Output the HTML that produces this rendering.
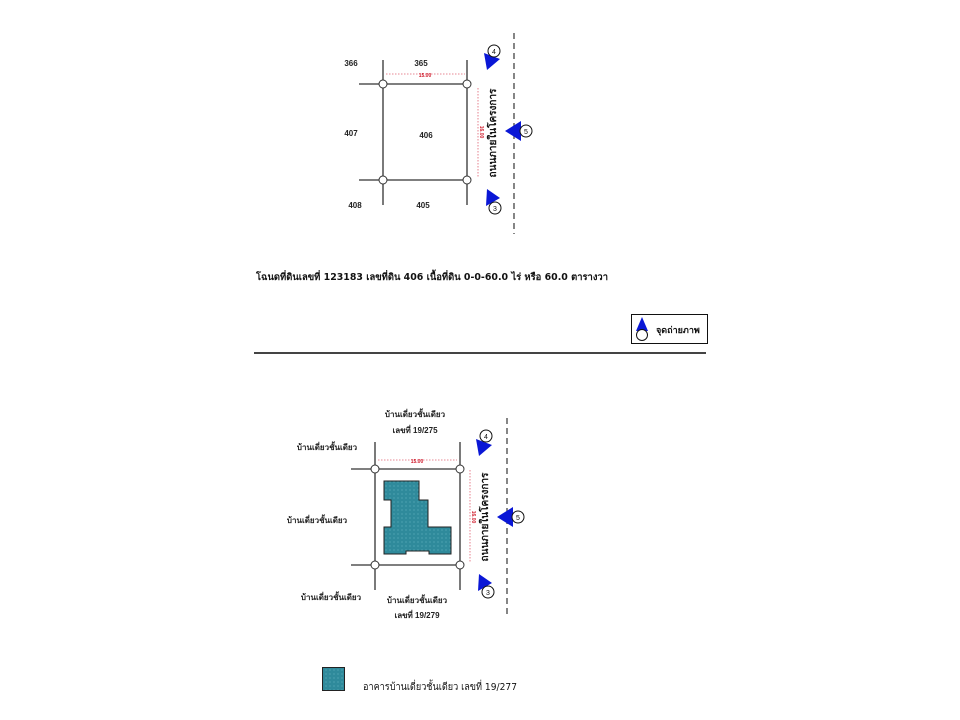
<!DOCTYPE html>
<html><head><meta charset="utf-8"><style>
html,body{margin:0;padding:0;background:#fff;}
svg{display:block;}
text{font-family:"Liberation Sans","Noto Sans CJK SC",sans-serif;}
.th{font-family:"DejaVu Sans","Liberation Sans",sans-serif;}
</style></head><body>
<svg width="960" height="720" viewBox="0 0 960 720" xmlns="http://www.w3.org/2000/svg">
<defs>
<pattern id="dots" width="4" height="4" patternUnits="userSpaceOnUse">
<rect width="4" height="4" fill="#2f8a9b"/><circle cx="2" cy="2" r="0.6" fill="#5fb0bd"/>
</pattern>
</defs>
<!-- TOP -->
<g stroke="#333" stroke-width="1.3" fill="none">
<line x1="383" y1="60" x2="383" y2="205"/>
<line x1="467" y1="60" x2="467" y2="205"/>
<line x1="359" y1="84" x2="467" y2="84"/>
<line x1="359" y1="180" x2="467" y2="180"/>
</g>
<line x1="514" y1="33" x2="514" y2="234" stroke="#444" stroke-width="1.3" stroke-dasharray="6,4"/>
<g stroke="#e06070" stroke-width="0.8" stroke-dasharray="1.5,1.5" fill="none">
<line x1="386" y1="74" x2="465" y2="74"/><line x1="478" y1="88" x2="478" y2="177"/>
</g>
<text x="425" y="77" font-size="5" fill="#d02030" text-anchor="middle" font-weight="bold">15.00</text>
<text transform="translate(480,132) rotate(90)" font-size="5" fill="#d02030" text-anchor="middle" font-weight="bold">16.00</text>
<text class="th" transform="translate(496,133) rotate(-90)" font-size="10" fill="#111" text-anchor="middle" font-weight="bold">ถนนภายในโครงการ</text>
<g fill="#fff" stroke="#333" stroke-width="1">
<circle cx="383" cy="84" r="4"/><circle cx="467" cy="84" r="4"/>
<circle cx="383" cy="180" r="4"/><circle cx="467" cy="180" r="4"/>
</g>
<g font-size="8" font-weight="bold" fill="#222" text-anchor="middle">
<text x="351" y="66">366</text><text x="421" y="66">365</text>
<text x="351" y="136">407</text><text x="426" y="138">406</text>
<text x="355" y="208">408</text><text x="423" y="208">405</text>
</g>
<g fill="#0a17d6">
<polygon points="487,70 484,53 500,59"/>
<polygon points="505,131 521,121 521,141"/>
<polygon points="487,189 500,198 486,206"/>
</g>
<g fill="#fff" stroke="#111" stroke-width="1">
<circle cx="494" cy="51" r="6"/><circle cx="526" cy="131" r="6"/><circle cx="495" cy="208" r="6"/>
</g>
<g font-size="7" fill="#111" text-anchor="middle">
<text x="494" y="54">4</text><text x="526" y="134">5</text><text x="495" y="211">3</text>
</g>
<text class="th" x="256" y="280" font-size="9.6" font-weight="bold" fill="#111" textLength="352" lengthAdjust="spacingAndGlyphs">โฉนดที่ดินเลขที่ 123183 เลขที่ดิน 406 เนื้อที่ดิน 0-0-60.0 ไร่ หรือ 60.0 ตารางวา</text>
<!-- legend -->
<rect x="631.5" y="314.5" width="76" height="29" fill="#fff" stroke="#111" stroke-width="1"/>
<polygon points="642,317 636,331 648,331" fill="#0a17d6"/>
<circle cx="642" cy="335" r="5.5" fill="#fff" stroke="#111"/>
<text class="th" x="656" y="333" font-size="9" font-weight="bold" fill="#111">จุดถ่ายภาพ</text>
<line x1="254" y1="353" x2="706" y2="353" stroke="#444" stroke-width="2"/>
<!-- BOTTOM -->
<g stroke="#333" stroke-width="1.3" fill="none">
<line x1="375" y1="442" x2="375" y2="590"/>
<line x1="460" y1="442" x2="460" y2="590"/>
<line x1="351" y1="469" x2="460" y2="469"/>
<line x1="351" y1="565" x2="460" y2="565"/>
</g>
<line x1="507" y1="418" x2="507" y2="618" stroke="#444" stroke-width="1.3" stroke-dasharray="6,4"/>
<polygon points="384,481 419,481 419,500 428,500 428,527 451,527 451,554 429,554 429,551 406,551 406,554 384,554 384,527 391,527 391,500 384,500" fill="url(#dots)" stroke="#222" stroke-width="1"/>
<g stroke="#e06070" stroke-width="0.8" stroke-dasharray="1.5,1.5" fill="none">
<line x1="378" y1="460" x2="457" y2="460"/><line x1="470" y1="470" x2="470" y2="562"/>
</g>
<text x="417" y="463" font-size="5" fill="#d02030" text-anchor="middle" font-weight="bold">15.00</text>
<text transform="translate(472,517) rotate(90)" font-size="5" fill="#d02030" text-anchor="middle" font-weight="bold">16.00</text>
<text class="th" transform="translate(488,517) rotate(-90)" font-size="10" fill="#111" text-anchor="middle" font-weight="bold">ถนนภายในโครงการ</text>
<g fill="#fff" stroke="#333" stroke-width="1">
<circle cx="375" cy="469" r="4"/><circle cx="460" cy="469" r="4"/>
<circle cx="375" cy="565" r="4"/><circle cx="460" cy="565" r="4"/>
</g>
<g class="th" font-size="8" font-weight="bold" fill="#222" text-anchor="middle">
<text x="415" y="417">บ้านเดี่ยวชั้นเดียว</text><text x="415" y="433">เลขที่ 19/275</text>
<text x="327" y="450">บ้านเดี่ยวชั้นเดียว</text>
<text x="317" y="523">บ้านเดี่ยวชั้นเดียว</text>
<text x="331" y="600">บ้านเดี่ยวชั้นเดียว</text>
<text x="417" y="603">บ้านเดี่ยวชั้นเดียว</text><text x="417" y="618">เลขที่ 19/279</text>
</g>
<g fill="#0a17d6">
<polygon points="479,456 476,439 492,445"/>
<polygon points="497,517 513,507 513,527"/>
<polygon points="479,574 492,583 478,591"/>
</g>
<g fill="#fff" stroke="#111" stroke-width="1">
<circle cx="486" cy="436" r="6"/><circle cx="518" cy="517" r="6"/><circle cx="488" cy="592" r="6"/>
</g>
<g font-size="7" fill="#111" text-anchor="middle">
<text x="486" y="439">4</text><text x="518" y="520">5</text><text x="488" y="595">3</text>
</g>
<rect x="322.5" y="667.5" width="22" height="23" fill="url(#dots)" stroke="#222" stroke-width="1"/>
<text class="th" x="363" y="690" font-size="10" fill="#111" textLength="154" lengthAdjust="spacingAndGlyphs">อาคารบ้านเดี่ยวชั้นเดียว เลขที่ 19/277</text>
</svg>
</body></html>
